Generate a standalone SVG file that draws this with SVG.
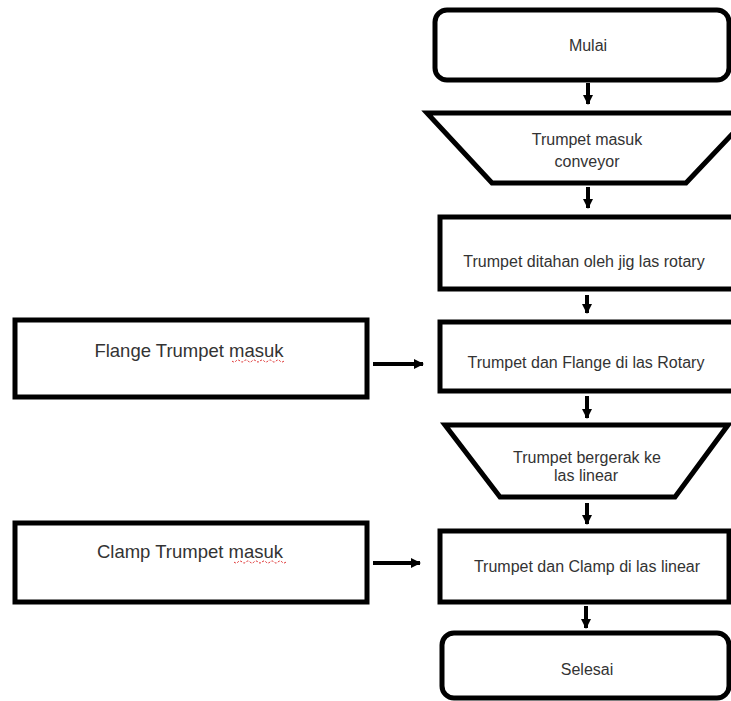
<svg xmlns="http://www.w3.org/2000/svg" width="731" height="701" viewBox="0 0 731 701">
<defs>
<style>
.box{fill:#fff;stroke:#000;stroke-width:5;stroke-linejoin:miter}
.lbl{font-family:"Liberation Sans","DejaVu Sans",sans-serif;font-size:16px;fill:#333;text-anchor:middle}
.side{font-size:18.5px}
.con{stroke:#000;stroke-width:4;fill:none}
.sq{stroke:#d22;stroke-width:1;fill:none;stroke-dasharray:2 1.5}
</style>
<marker id="ah" viewBox="0 0 10 10" refX="9" refY="5" markerWidth="2.5" markerHeight="2.5" orient="auto" markerUnits="strokeWidth">
<path d="M0,0 L10,5 L0,10 Z" fill="#000"/>
</marker>
</defs>
<rect width="731" height="701" fill="#fff"/>
<g id="mulai">
<rect class="box" x="435" y="10" width="294" height="70" rx="12"/>
<text class="lbl" x="588" y="51">Mulai</text>
</g>
<g id="masuk-conveyor">
<polygon class="box" points="427,113 752,113 686,183 492,183"/>
<text class="lbl" x="587" y="145">Trumpet masuk</text>
<text class="lbl" x="587" y="167">conveyor</text>
</g>
<g id="ditahan">
<rect class="box" x="440" y="217" width="310" height="72"/>
<text class="lbl" x="584" y="267">Trumpet ditahan oleh jig las rotary</text>
</g>
<g id="flange-rotary">
<rect class="box" x="440" y="322" width="310" height="69"/>
<text class="lbl" x="586" y="368">Trumpet dan Flange di las Rotary</text>
</g>
<g id="bergerak">
<polygon class="box" points="445,425 728,425 675,497 500,497"/>
<text class="lbl" x="587" y="463">Trumpet bergerak ke</text>
<text class="lbl" x="586" y="481">las linear</text>
</g>
<g id="clamp-linear">
<rect class="box" x="440" y="531" width="289" height="71"/>
<text class="lbl" x="587" y="572">Trumpet dan Clamp di las linear</text>
</g>
<g id="selesai">
<rect class="box" x="442" y="633" width="287" height="65" rx="12"/>
<text class="lbl" x="587" y="675">Selesai</text>
</g>
<g id="flange-masuk">
<rect class="box" x="15" y="320" width="352" height="77"/>
<text class="lbl side" x="189" y="357">Flange Trumpet masuk</text>
<path class="sq" d="M232,361 q2,2 4,0 t4,0 t4,0 t4,0 t4,0 t4,0 t4,0 t4,0 t4,0 t4,0 t4,0 t4,0 t4,0"/>
</g>
<g id="clamp-masuk">
<rect class="box" x="15" y="523" width="352" height="79"/>
<text class="lbl side" x="190" y="558">Clamp Trumpet masuk</text>
<path class="sq" d="M234,562 q2,2 4,0 t4,0 t4,0 t4,0 t4,0 t4,0 t4,0 t4,0 t4,0 t4,0 t4,0 t4,0 t4,0"/>
</g>
<g id="connectors">
<line class="con" x1="588" y1="83" x2="588" y2="104" marker-end="url(#ah)"/>
<line class="con" x1="588" y1="187" x2="588" y2="208" marker-end="url(#ah)"/>
<line class="con" x1="587" y1="295" x2="587" y2="313" marker-end="url(#ah)"/>
<line class="con" x1="587" y1="396" x2="587" y2="418" marker-end="url(#ah)"/>
<line class="con" x1="587" y1="503" x2="587" y2="524" marker-end="url(#ah)"/>
<line class="con" x1="586" y1="606" x2="586" y2="628" marker-end="url(#ah)"/>
<line class="con" x1="373" y1="364" x2="423" y2="364" marker-end="url(#ah)"/>
<line class="con" x1="373" y1="563" x2="420" y2="563" marker-end="url(#ah)"/>
</g>
</svg>
